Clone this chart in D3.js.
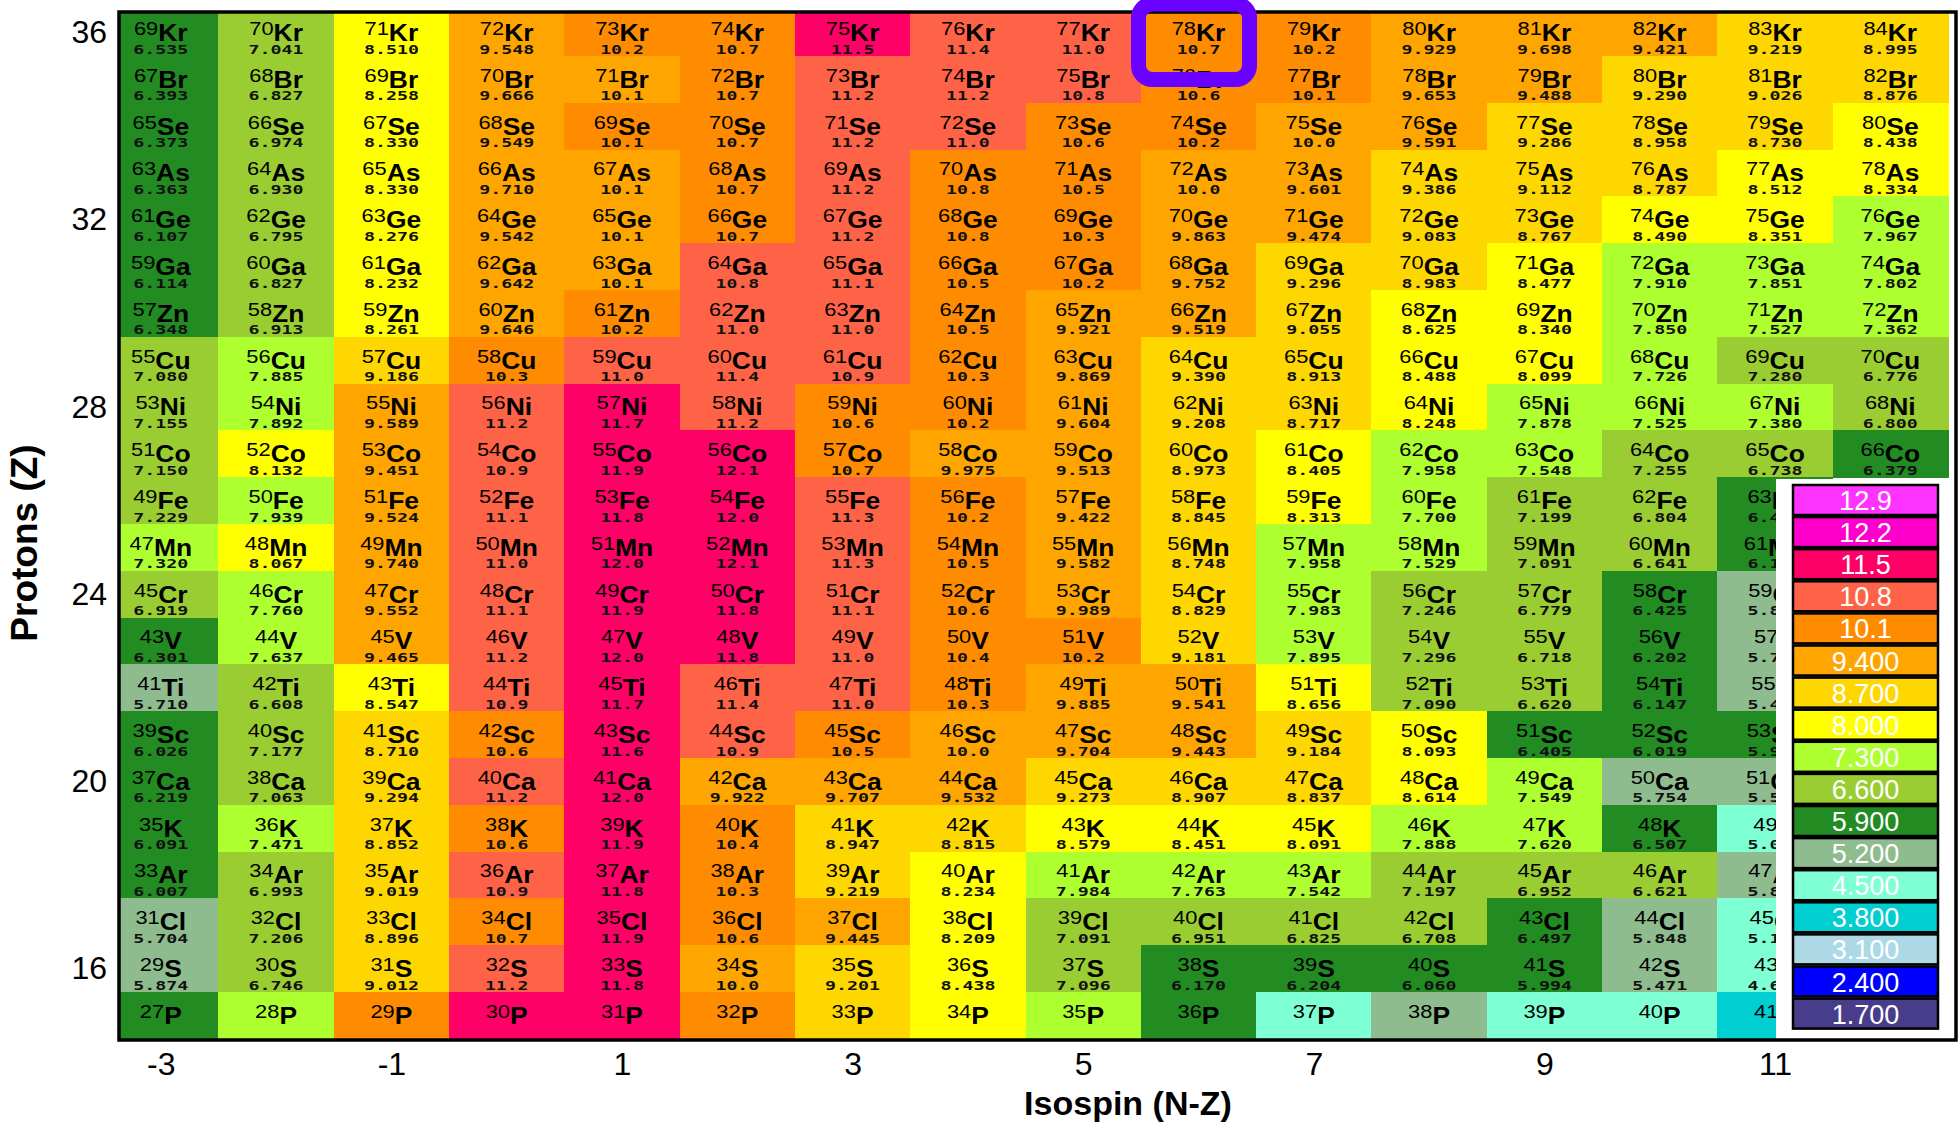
<!DOCTYPE html>
<html>
<head>
<meta charset="utf-8">
<script src="https://cdn.jsdelivr.net/npm/d3@7"></script>
<style>
  html, body { margin: 0; padding: 0; background: #fff; }
  svg { display: block; }
</style>
</head>
<body>
<svg id="chart" width="1959" height="1124"></svg>
<script>
// Columns: isospin N-Z
const isospin = [-3, -2, -1, 0, 1, 2, 3, 4, 5, 6, 7, 8, 9, 10, 11, 12];
// Rows: proton number and element symbol, top row first
const protons = [36, 35, 34, 33, 32, 31, 30, 29, 28, 27, 26, 25, 24, 23, 22, 21, 20, 19, 18, 17, 16, 15];
const symbols = ["Kr", "Br", "Se", "As", "Ge", "Ga", "Zn", "Cu", "Ni", "Co", "Fe", "Mn", "Cr", "V", "Ti", "Sc", "Ca", "K", "Ar", "Cl", "S", "P"];

// Cell values per element, one entry per isospin column (null: not drawn)
const vKr = [6.535, 7.041, 8.510, 9.548, 10.2, 10.7, 11.52, 11.4, 11.0, 10.7, 10.2, 9.929, 9.698, 9.421, 9.219, 8.995];
const vBr = [6.393, 6.827, 8.258, 9.666, 10.08, 10.7, 11.2, 11.2, 10.82, 10.6, 10.12, 9.653, 9.488, 9.290, 9.026, 8.876];
const vSe = [6.373, 6.974, 8.330, 9.549, 10.12, 10.7, 11.2, 11.0, 10.6, 10.2, 10.0, 9.591, 9.286, 8.958, 8.730, 8.438];
const vAs = [6.363, 6.930, 8.330, 9.710, 10.06, 10.7, 11.2, 10.78, 10.5, 10.0, 9.601, 9.386, 9.112, 8.787, 8.512, 8.334];
const vGe = [6.107, 6.795, 8.276, 9.542, 10.07, 10.7, 11.2, 10.77, 10.3, 9.863, 9.474, 9.083, 8.767, 8.490, 8.351, 7.967];
const vGa = [6.114, 6.827, 8.232, 9.642, 10.06, 10.83, 11.1, 10.5, 10.2, 9.752, 9.296, 8.983, 8.477, 7.910, 7.851, 7.802];
const vZn = [6.348, 6.913, 8.261, 9.646, 10.2, 11.0, 11.0, 10.5, 9.921, 9.519, 9.055, 8.625, 8.340, 7.850, 7.527, 7.362];
const vCu = [7.080, 7.885, 9.186, 10.3, 11.0, 11.4, 10.9, 10.3, 9.869, 9.390, 8.913, 8.488, 8.099, 7.726, 7.280, 6.776];
const vNi = [7.155, 7.892, 9.589, 11.2, 11.7, 11.2, 10.6, 10.2, 9.604, 9.208, 8.717, 8.248, 7.878, 7.525, 7.380, 6.800];
const vCo = [7.150, 8.132, 9.451, 10.9, 11.9, 12.1, 10.7, 9.975, 9.513, 8.973, 8.405, 7.958, 7.548, 7.255, 6.738, 6.379];
const vFe = [7.229, 7.939, 9.524, 11.1, 11.8, 12.0, 11.3, 10.2, 9.422, 8.845, 8.313, 7.700, 7.199, 6.804, 6.431, null];
const vMn = [7.320, 8.067, 9.740, 11.0, 12.0, 12.1, 11.3, 10.5, 9.582, 8.748, 7.958, 7.529, 7.091, 6.641, 6.132, null];
const vCr = [6.919, 7.760, 9.552, 11.1, 11.9, 11.8, 11.1, 10.6, 9.989, 8.829, 7.983, 7.246, 6.779, 6.425, 5.834, null];
const vV  = [6.301, 7.637, 9.465, 11.2, 12.0, 11.8, 11.0, 10.4, 10.2, 9.181, 7.895, 7.296, 6.718, 6.202, 5.742, null];
const vTi = [5.710, 6.608, 8.547, 10.9, 11.7, 11.4, 11.0, 10.3, 9.885, 9.541, 8.656, 7.090, 6.620, 6.147, 5.468, null];
const vSc = [6.026, 7.177, 8.710, 10.6, 11.6, 10.9, 10.5, 10.0, 9.704, 9.443, 9.184, 8.093, 6.405, 6.019, 5.936, null];
const vCa = [6.219, 7.063, 9.294, 11.2, 12.0, 9.922, 9.707, 9.532, 9.273, 8.907, 8.837, 8.614, 7.549, 5.754, 5.528, null];
const vK  = [6.091, 7.471, 8.852, 10.6, 11.9, 10.4, 8.947, 8.815, 8.579, 8.451, 8.091, 7.888, 7.620, 6.507, 5.046, null];
const vAr = [6.007, 6.993, 9.019, 10.9, 11.8, 10.3, 9.219, 8.234, 7.984, 7.763, 7.542, 7.197, 6.952, 6.621, 5.826, null];
const vCl = [5.704, 7.206, 8.896, 10.7, 11.9, 10.6, 9.445, 8.209, 7.091, 6.951, 6.825, 6.708, 6.497, 5.848, 5.128, null];
const vS  = [5.874, 6.746, 9.012, 11.2, 11.8, 10.0, 9.201, 8.438, 7.096, 6.170, 6.204, 6.060, 5.994, 5.471, 4.658, null];
const vP  = [6.3, 7.6, 10.4, 11.9, 12.0, 10.3, 9.0, 8.4, 7.9, 6.4, 4.9, 5.6, 4.8, 4.6, 4.2, null];

const rowValues = [vKr, vBr, vSe, vAs, vGe, vGa, vZn, vCu, vNi, vCo, vFe, vMn, vCr, vV, vTi, vSc, vCa, vK, vAr, vCl, vS, vP];
// The bottom row shows only the nuclide names
const rowsWithoutValues = [15];

// Colour key, highest bin first
const legendLabels = ["12.9", "12.2", "11.5", "10.8", "10.1", "9.400", "8.700", "8.000", "7.300", "6.600", "5.900", "5.200", "4.500", "3.800", "3.100", "2.400", "1.700"];
const legendColors = ["#ff33ff", "#ff00cc", "#ff0066", "#ff6347", "#ff8c00", "#ffa500", "#ffd700", "#ffff00", "#adff2f", "#9acd32", "#228b22", "#8fbc8f", "#7fffd4", "#00ced1", "#add8e6", "#0000ff", "#483d8b"];

// Axis ticks
const xTicks = [-3, -1, 1, 3, 5, 7, 9, 11];
const yTicks = [16, 20, 24, 28, 32, 36];

const FONT = "'Liberation Sans', Arial, sans-serif";
const svg = d3.select("#chart");
svg.append("rect").attr("width", 1959).attr("height", 1124).attr("fill", "#fff");

const frame = { left: 119, top: 12, right: 1956, bottom: 1040 };
const x = d3.scaleLinear().domain([-3, 11]).range([160.8, 1775]);
const y = d3.scaleLinear().domain([36, 16]).range([32.5, 968.5]);
const cellW = x(1) - x(0);
const cellH = y(0) - y(1);

// bin lower edges ascending; each value takes the colour of the bin it falls in
const edges = legendLabels.map(Number).slice().reverse();
const color = d3.scaleThreshold()
  .domain(edges.slice(1))
  .range(legendColors.slice().reverse());

const cells = [];
rowValues.forEach((vals, i) => {
  vals.forEach((v, j) => {
    if (v == null) return;
    const z = protons[i], n = isospin[j];
    cells.push({ z, n, sym: symbols[i], A: 2 * z + n, v, showValue: !rowsWithoutValues.includes(z) });
  });
});

svg.append("clipPath").attr("id", "plotClip")
  .append("rect")
  .attr("x", frame.left).attr("y", frame.top)
  .attr("width", frame.right - frame.left).attr("height", frame.bottom - frame.top);

const plot = svg.append("g").attr("clip-path", "url(#plotClip)");

plot.append("g").selectAll("rect").data(cells).join("rect")
  .attr("x", d => x(d.n) - cellW / 2)
  .attr("y", d => y(d.z) - cellH / 2)
  .attr("width", cellW + 0.6)
  .attr("height", cellH + 0.6)
  .attr("fill", d => color(d.v))
  .attr("shape-rendering", "crispEdges");

const fmt = v => (v >= 10 ? v.toFixed(1) : v.toFixed(3));

const labels = plot.append("g").selectAll("g").data(cells).join("g")
  .attr("transform", d => `translate(${x(d.n)},${y(d.z)})`);

const name = labels.append("text")
  .attr("text-anchor", "middle")
  .attr("y", 8.5)
  .attr("transform", "scale(1.15,1)")
  .attr("font-family", FONT)
  .attr("fill", "#000");
name.append("tspan").attr("font-size", 19).attr("dy", -6).text(d => d.A);
name.append("tspan").attr("font-size", 23).attr("font-weight", "bold").attr("dy", 6).text(d => d.sym);

labels.filter(d => d.showValue).append("text")
  .attr("text-anchor", "middle")
  .attr("y", 21)
  .attr("font-family", "'DejaVu Sans Mono', monospace")
  .attr("font-weight", "bold")
  .attr("font-size", 11.5)
  .attr("fill", "#111")
  .attr("textLength", d => fmt(d.v).length * 11.4 - 2)
  .attr("lengthAdjust", "spacingAndGlyphs")
  .text(d => fmt(d.v));

// Colour key
const legend = svg.append("g");
legend.append("rect")
  .attr("x", 1776).attr("y", 479)
  .attr("width", frame.right - 1776).attr("height", frame.bottom - 479)
  .attr("fill", "#fff");
const sw = legend.selectAll("g").data(legendLabels.map((l, i) => ({ l, c: legendColors[i], i }))).join("g")
  .attr("transform", d => `translate(1793,${485 + d.i * 32.1})`);
sw.append("rect")
  .attr("width", 145).attr("height", 30)
  .attr("fill", d => d.c)
  .attr("stroke", "#000").attr("stroke-width", 2.5);
sw.append("text")
  .attr("x", 72.5).attr("y", 25)
  .attr("text-anchor", "middle")
  .attr("font-family", FONT)
  .attr("font-size", 27)
  .attr("fill", "#fff")
  .text(d => d.l);

// Frame
svg.append("rect")
  .attr("x", frame.left).attr("y", frame.top)
  .attr("width", frame.right - frame.left).attr("height", frame.bottom - frame.top)
  .attr("fill", "none").attr("stroke", "#000").attr("stroke-width", 3.5);

// Highlighted nuclide
const highlight = [{ n: 6, z: 36 }];
svg.append("g").selectAll("rect").data(highlight).join("rect")
  .attr("x", d => x(d.n) - 60)
  .attr("y", d => y(d.z) - 28.5)
  .attr("width", 111)
  .attr("height", 75.5)
  .attr("rx", 14)
  .attr("fill", "none")
  .attr("stroke", "#6a00ff")
  .attr("stroke-width", 15);

// Axes
const xAxis = d3.axisBottom(x).tickValues(xTicks).tickSize(0).tickPadding(12).tickFormat(d => String(d));
svg.append("g")
  .attr("transform", `translate(0,${frame.bottom})`)
  .call(xAxis)
  .call(g => g.select(".domain").remove())
  .selectAll("text")
  .attr("font-family", FONT).attr("font-size", 32).attr("fill", "#000");

const yAxis = d3.axisLeft(y).tickValues(yTicks).tickSize(0).tickPadding(12).tickFormat(d => String(d));
svg.append("g")
  .attr("transform", `translate(${frame.left},0)`)
  .call(yAxis)
  .call(g => g.select(".domain").remove())
  .selectAll("text")
  .attr("font-family", FONT).attr("font-size", 32).attr("fill", "#000");

svg.append("text")
  .attr("x", 1128).attr("y", 1115)
  .attr("text-anchor", "middle")
  .attr("font-family", FONT).attr("font-weight", "bold").attr("font-size", 34)
  .text("Isospin (N-Z)");

svg.append("text")
  .attr("transform", "translate(37,543) rotate(-90)")
  .attr("text-anchor", "middle")
  .attr("font-family", FONT).attr("font-weight", "bold").attr("font-size", 37)
  .text("Protons (Z)");
</script>
</body>
</html>
